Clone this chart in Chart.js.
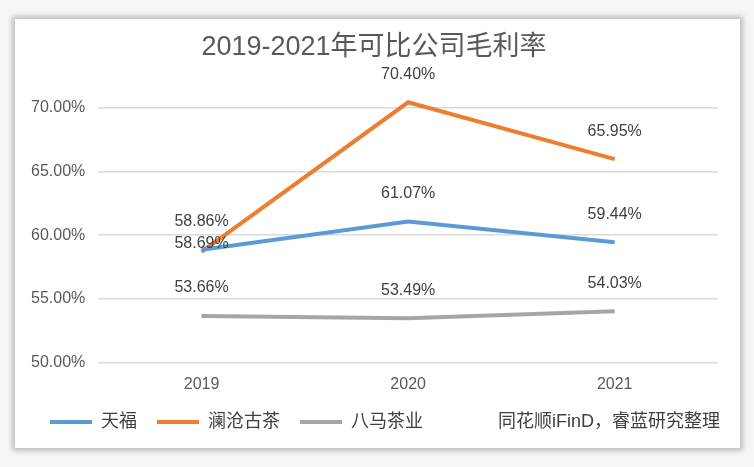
<!DOCTYPE html>
<html>
<head>
<meta charset="utf-8">
<script src="https://cdn.jsdelivr.net/npm/chart.js@4/dist/chart.umd.min.js"></script>
<style>
  body { margin: 0; background: #f6f6f6; }
  #panel {
    position: absolute; left: 15px; top: 19px; width: 725px; height: 429px;
    background: #fff; box-shadow: 0 0 5px 3px rgba(0,0,0,0.22);
  }
  canvas { display: block; }
</style>
</head>
<body>
<div id="panel"><canvas id="marginChart" width="725" height="429"></canvas></div>
<script>
const years = ["2019", "2020", "2021"];
const tianfu = [58.86, 61.07, 59.44];
const lancang = [58.69, 70.40, 65.95];
const bama = [53.66, 53.49, 54.03];
const seriesNames = ["天福", "澜沧古茶", "八马茶业"];
const sourceNote = "同花顺iFinD，睿蓝研究整理";

const cjk = "'Liberation Sans', 'Noto Sans CJK SC', sans-serif";

// value labels above each point (Excel-style), plus the source note
const valueLabels = {
  id: "valueLabels",
  afterDatasetsDraw(chart, args, opts) {
    const ctx = chart.ctx;
    ctx.save();
    ctx.font = "16px " + cjk;
    ctx.fillStyle = "#404040";
    ctx.textAlign = "center";
    ctx.textBaseline = "middle";
    chart.data.datasets.forEach((ds, i) => {
      chart.getDatasetMeta(i).data.forEach((pt, j) => {
        const lift = (opts.lift[i] && opts.lift[i][j]) || opts.defaultLift;
        ctx.fillText(ds.data[j].toFixed(2) + "%", pt.x, pt.y - lift);
      });
    });
    ctx.restore();
  },
  afterDraw(chart) {
    const ctx = chart.ctx;
    const hb = chart.legend.legendHitBoxes[0];
    ctx.save();
    ctx.font = "18px " + cjk;
    ctx.fillStyle = "#404040";
    ctx.textAlign = "right";
    ctx.textBaseline = "middle";
    ctx.fillText(sourceNote, chart.width - 20, hb.top + hb.height / 2);
    ctx.restore();
  },
};

new Chart(document.getElementById("marginChart"), {
  type: "line",
  data: {
    labels: years,
    datasets: [
      { label: seriesNames[0], data: tianfu, borderColor: "#5B9BD5", backgroundColor: "#5B9BD5" },
      { label: seriesNames[1], data: lancang, borderColor: "#ED7D31", backgroundColor: "#ED7D31" },
      { label: seriesNames[2], data: bama, borderColor: "#A5A5A5", backgroundColor: "#A5A5A5" },
    ],
  },
  options: {
    responsive: false,
    animation: false,
    clip: false,
    layout: { padding: { left: 15, right: 22, top: 0, bottom: 7 } },
    elements: {
      line: { borderWidth: 4, tension: 0 },
      point: { radius: 0, hoverRadius: 0 },
    },
    plugins: {
      title: {
        display: true,
        text: "2019-2021年可比公司毛利率",
        color: "#595959",
        font: { family: cjk, size: 27, weight: "normal" },
        padding: { top: 12, bottom: 44 },
      },
      legend: {
        position: "bottom",
        align: "start",
        labels: {
          color: "#404040",
          font: { family: cjk, size: 18, lineHeight: 1 },
          boxWidth: 42,
          boxHeight: 4,
          padding: 20,
          generateLabels(chart) {
            return Chart.defaults.plugins.legend.labels
              .generateLabels(chart)
              .map((it) => Object.assign(it, { lineWidth: 0 }));
          },
        },
      },
      tooltip: { enabled: false },
      valueLabels: { defaultLift: 28, lift: { 1: { 0: 8 } } },
    },
    scales: {
      x: {
        offset: true,
        grid: { display: false, drawTicks: false },
        border: { display: false },
        ticks: { color: "#595959", font: { family: cjk, size: 16 }, padding: 12 },
        afterFit: (s) => { s.height -= 13; },
      },
      y: {
        min: 50,
        max: 70,
        border: { display: false },
        grid: { color: "#d9d9d9", lineWidth: 1.5, drawTicks: false },
        ticks: {
          stepSize: 5,
          color: "#595959",
          font: { family: cjk, size: 16 },
          padding: 13,
          callback: (v) => v.toFixed(2) + "%",
        },
        afterFit: (s) => { s.width -= 12; },
      },
    },
  },
  plugins: [valueLabels],
});
</script>
</body>
</html>
